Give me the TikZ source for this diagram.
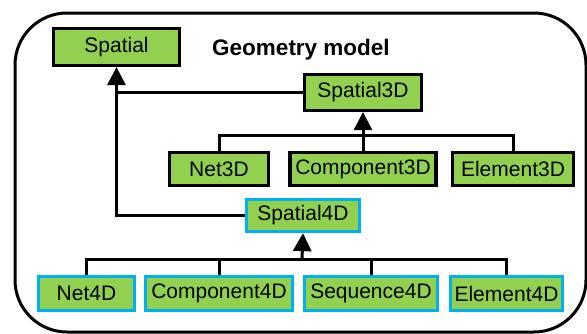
\documentclass[tikz,border=0pt]{standalone}
\usepackage{fontspec}
\setmainfont{Liberation Sans}
\usetikzlibrary{arrows.meta}
\definecolor{boxgreen}{HTML}{92D050}
\definecolor{boxblue}{HTML}{00B0F0}
\tikzset{
  cls/.style={draw=black, fill=boxgreen, line width=3.2pt, inner sep=0pt,
    font=\fontsize{21}{25}\selectfont},
  cls4/.style={cls, draw=boxblue},
  link/.style={line width=3pt},
  inherit/.style={link, -{Triangle[width=18pt,length=18pt]}}
}
\begin{document}
\begin{tikzpicture}[x=1pt, y=-1pt]
\useasboundingbox (0,0) rectangle (587,333);
\begin{scope}
\clip (0,0) rectangle (587,333);
\draw[line width=3pt, rounded corners=52pt] (15,13) rectangle (586,332);
\end{scope}

\node[font=\bfseries\fontsize{22.5}{26}\selectfont] (title) at (301,50) {Geometry model};

% top level
\node[cls, minimum width=126pt, minimum height=37pt] (sp) at (116.5,47) {Spatial};

% 3D branch
\node[cls, minimum width=117pt, minimum height=36pt] (sp3) at (363,92.5) {Spatial3D};
\node[cls, minimum width=99pt, minimum height=33pt] (net3) at (219,169) {Net3D};
\node[cls, minimum width=146pt, minimum height=33pt] (comp3) at (363,169) {Component3D};
\node[cls, minimum width=121pt, minimum height=33pt] (elem3) at (513,169) {Element3D};

% 4D branch
\node[cls4, minimum width=113pt, minimum height=32pt] (sp4) at (303,215.5) {Spatial4D};
\node[cls4, minimum width=96pt, minimum height=34pt] (net4) at (86.5,293.5) {Net4D};
\node[cls4, minimum width=147pt, minimum height=34pt] (comp4) at (219,293.5) {Component4D};
\node[cls4, minimum width=133pt, minimum height=34pt] (seq4) at (371,293.5) {Sequence4D};
\node[cls4, minimum width=112pt, minimum height=34pt] (elem4) at (506.5,293.5) {Element4D};

% bars joining the children
\coordinate (bar3) at (363,135);
\coordinate (bar4) at (302,259);

\draw[link] (net3.north) |- (bar3) -| (elem3.north);
\draw[inherit] (comp3.north) -- (sp3.south);

\draw[link] (net4.north) |- (bar4) -| (elem4.north);
\draw[link] (comp4.north) |- (bar4);
\draw[link] (seq4.north) |- (bar4);
\draw[inherit] (bar4) -- (sp4.south);

% links up to Spatial
\draw[link] (sp3.west) -- (sp3.west -| sp.south);
\draw[inherit] (sp4.west) -| (sp.south);
\end{tikzpicture}
\end{document}
